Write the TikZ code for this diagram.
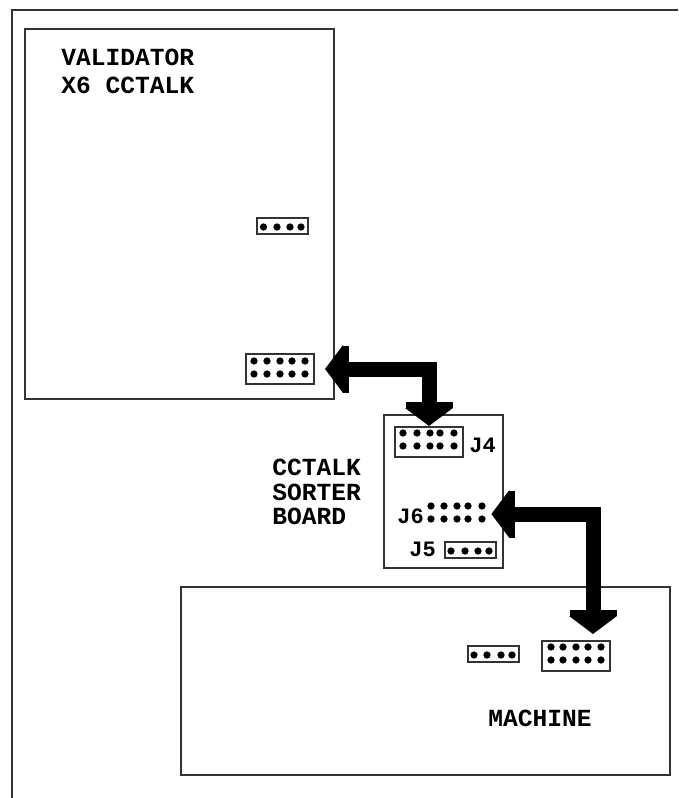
\documentclass[tikz,border=0pt]{standalone}
\usepackage{fontspec}
\setmainfont{Liberation Mono}
\usetikzlibrary{arrows.meta}
\tikzset{
    frameline/.style={line width=0.04cm, black!80},
    hdrfour/.style={draw, frameline, inner sep=0, minimum width=1.02cm, minimum height=0.32cm},
    hdrten/.style={draw, frameline, inner sep=0, minimum width=1.36cm, minimum height=0.6cm},
    lbl/.style={anchor=west, inner sep=0, font=\fontsize{14}{16}\selectfont\bfseries},
    jlbl/.style={lbl, font=\fontsize{12.5}{14}\selectfont\bfseries},
    bighead/.tip={Rectangle[length=0.12cm,width=0.94cm,sep=0pt] Triangle[width=0.94cm,length=0.36cm,sep=0pt]},
    bigarrow/.style={{bighead}-{bighead}, line width=0.3cm}
}
\begin{document}
\begin{tikzpicture}
        \useasboundingbox (0, 0) rectangle (13.56, -15.96);

        \draw[frameline] (13.56, -0.19)--(0.24, -0.19)--(0.24, -15.96);
        \draw[frameline] (0.5, -0.57) rectangle (6.67, -7.98);
        \draw[frameline] (7.68, -8.3) rectangle (10.06, -11.36);
        \draw[frameline] (3.62, -11.74) rectangle (13.4, -15.5);

        \node[lbl] (valname) at (1.22, -1.15) {VALIDATOR};
        \node[lbl] (valtype) at (1.22, -1.71) {X6 CCTALK};
        \node[lbl] (sortone) at (5.44, -9.34) {CCTALK};
        \node[lbl] (sorttwo) at (5.44, -9.84) {SORTER};
        \node[lbl] (sortthree) at (5.44, -10.32) {BOARD};
        \node[lbl] (machname) at (9.76, -14.36) {MACHINE};
        \node[jlbl] (jfourlbl) at (9.38, -8.9) {J4};
        \node[jlbl] (jsixlbl) at (7.94, -10.32) {J6};
        \node[jlbl] (jfivelbl) at (8.18, -10.98) {J5};

        \node[hdrfour] (valfour) at (5.65, -4.52) {};
        \node[hdrten] (valten) at (5.6, -7.38) {};
        \node[hdrten] (jfour) at (8.58, -8.84) {};
        \node[inner sep=0, minimum width=1.36cm, minimum height=0.6cm] (jsix) at (9.14, -10.28) {};
        \node[hdrfour] (jfive) at (9.41, -11.0) {};
        \node[hdrfour] (machfour) at (9.86, -13.08) {};
        \node[hdrten] (machten) at (11.52, -13.11) {};

        \foreach \x in {5.27, 5.54, 5.80, 6.02} \fill (\x, -4.54) circle (0.073);
        \foreach \x in {9.02, 9.30, 9.56, 9.78} \fill (\x, -11.02) circle (0.073);
        \foreach \x in {9.48, 9.74, 10.02, 10.24} \fill (\x, -13.10) circle (0.073);
        \foreach \y in {-7.22, -7.48} \foreach \x in {5.08, 5.34, 5.60, 5.84, 6.10} \fill (\x, \y) circle (0.073);
        \foreach \y in {-8.66, -8.92} \foreach \x in {8.06, 8.34, 8.60, 8.80, 9.08} \fill (\x, \y) circle (0.073);
        \foreach \y in {-10.12, -10.38} \foreach \x in {8.62, 8.88, 9.14, 9.36, 9.64} \fill (\x, \y) circle (0.073);
        \foreach \y in {-12.94, -13.20} \foreach \x in {11.02, 11.26, 11.52, 11.76, 12.02} \fill (\x, \y) circle (0.073);

        \coordinate (machin) at (11.86, -12.68);
        \draw[bigarrow, shorten <=0.2cm] (valten.east) -| (jfour.north);
        \draw[bigarrow] (jsix.east) -| (machin);

    \end{tikzpicture}
\end{document}
